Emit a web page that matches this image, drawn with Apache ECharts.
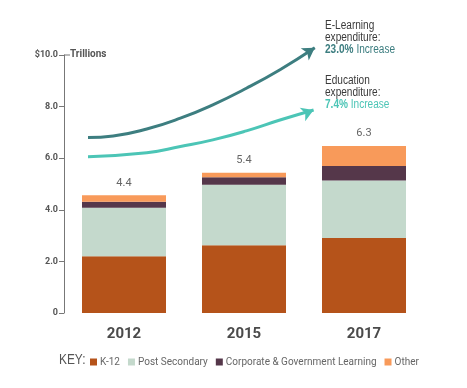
<!DOCTYPE html>
<html><head><meta charset="utf-8">
<script src="https://cdn.jsdelivr.net/npm/echarts@6/dist/echarts.min.js"></script>
<style>html,body{margin:0;padding:0;background:#fff}#c{width:467px;height:388px}</style>
</head><body><div id="c"></div>
<script>
const years = ['2012', '2015', '2017'];
const k12 = [2.20, 2.63, 2.91];
const postSecondary = [1.88, 2.34, 2.23];
const corporate = [0.23, 0.29, 0.56];
const other = [0.25, 0.18, 0.77];
const totals = ['4.4', '5.4', '6.3'];
const yTicks = [0, 2, 4, 6, 8, 10];
// trend curves in category-index units (x) and trillions (y)
const eLearningX = [-0.30, -0.09, 0.19, 0.47, 0.74, 1.02, 1.30, 1.59];
const eLearningY = [6.80, 6.86, 7.13, 7.55, 8.07, 8.71, 9.43, 10.28];
const educationX = [-0.30, 0.19, 0.47, 0.74, 1.02, 1.30, 1.58];
const educationY = [6.06, 6.21, 6.45, 6.71, 7.06, 7.48, 7.87];

const C = {k12:'#b5531a', ps:'#c4d9cc', corp:'#55374a', other:'#f89a5a', el:'#3d7e80', ed:'#4cc5b6'};

function curve(xs, ys, rot) {
  return xs.map((x, i) => {
    const last = i === xs.length - 1;
    return {value: [x, ys[i]], symbol: last ? 'arrow' : 'none', symbolSize: last ? [11, 12] : 0, symbolRotate: last ? rot : 0};
  });
}
const SANS = '"Liberation Sans", Arial, sans-serif';

const chart = echarts.init(document.getElementById('c'));
const barBase = {type: 'bar', stack: 'total', barWidth: '70%', xAxisIndex: 0, yAxisIndex: 0};
chart.setOption({
  animation: false,
  grid: {left: 64, right: 43, top: 55, bottom: 75},
  xAxis: [
    {type: 'category', data: years, axisLine: {show: false}, axisTick: {show: false},
     axisLabel: {color: '#4a4a4a', fontSize: 15, fontWeight: 'bold', fontFamily: 'Roboto', margin: 14}},
    {type: 'value', min: -0.5, max: 2.5, show: false}
  ],
  yAxis: {type: 'value', min: 0, max: 10, interval: 2, splitLine: {show: false},
    axisLine: {show: true, onZero: false, lineStyle: {color: '#777', width: 1}},
    axisTick: {show: true, length: 5, lineStyle: {color: '#777'}},
    axisLabel: {color: '#555', fontSize: 9, fontWeight: 'bold', fontFamily: 'Roboto', margin: 6,
      formatter: v => v === 0 ? '0' : (v === 10 ? '$10.0' : v.toFixed(1))}},
  legend: {left: 85, top: 352, itemWidth: 7, itemHeight: 7, itemGap: 8, icon: 'rect',
    textStyle: {color: '#666', fontSize: 10, fontFamily: 'Roboto', padding: [0,0,0,-2]},
    data: ['K-12', 'Post Secondary', 'Corporate & Government Learning', 'Other']},
  graphic: [
    {type: 'text', x: 59, y: 353, scaleX: 0.85, style: {text: 'KEY:', fill: '#555', font: '14px ' + SANS}},
    {type: 'line', shape: {x1: 64, y1: 55, x2: 70, y2: 55}, style: {stroke: '#777', lineWidth: 1}},
    {type: 'text', left: 70, top: 49, style: {text: 'Trillions', fill: '#555', font: 'bold 10px Roboto'}},
    {type: 'text', x: 325, y: 20, scaleX: 0.84, style: {text: 'E-Learning\nexpenditure:', fill: '#3a3a3a', font: '12px ' + SANS, lineHeight: 12}},
    {type: 'text', x: 325, y: 44, scaleX: 0.84, style: {rich: {b: {fill: C.el, fontWeight: 'bold', fontSize: 12, fontFamily: SANS}, n: {fill: C.el, fontSize: 12, fontFamily: SANS}}, text: '{b|23.0%} {n|Increase}'}},
    {type: 'text', x: 325, y: 75, scaleX: 0.84, style: {text: 'Education\nexpenditure:', fill: '#3a3a3a', font: '12px ' + SANS, lineHeight: 12}},
    {type: 'text', x: 325, y: 99, scaleX: 0.84, style: {rich: {b: {fill: C.ed, fontWeight: 'bold', fontSize: 12, fontFamily: SANS}, n: {fill: C.ed, fontSize: 12, fontFamily: SANS}}, text: '{b|7.4%} {n|Increase}'}}
  ],
  series: [
    Object.assign({name: 'K-12', data: k12, itemStyle: {color: C.k12}}, barBase),
    Object.assign({name: 'Post Secondary', data: postSecondary, itemStyle: {color: C.ps}}, barBase),
    Object.assign({name: 'Corporate & Government Learning', data: corporate, itemStyle: {color: C.corp}}, barBase),
    Object.assign({name: 'Other', data: other, itemStyle: {color: C.other},
      label: {show: true, position: 'top', distance: 7, color: '#666', fontSize: 11, fontFamily: 'Roboto',
        formatter: p => totals[p.dataIndex]}}, barBase),
    {type: 'line', name: 'elearn', xAxisIndex: 1, yAxisIndex: 0, smooth: true, clip: false,
      showAllSymbol: true, lineStyle: {color: C.el, width: 3}, itemStyle: {color: C.el},
      data: curve(eLearningX, eLearningY, -57)},
    {type: 'line', name: 'edu', xAxisIndex: 1, yAxisIndex: 0, smooth: true, clip: false,
      showAllSymbol: true, lineStyle: {color: C.ed, width: 3}, itemStyle: {color: C.ed},
      data: curve(educationX, educationY, -68)}
  ]
});
</script></body></html>
